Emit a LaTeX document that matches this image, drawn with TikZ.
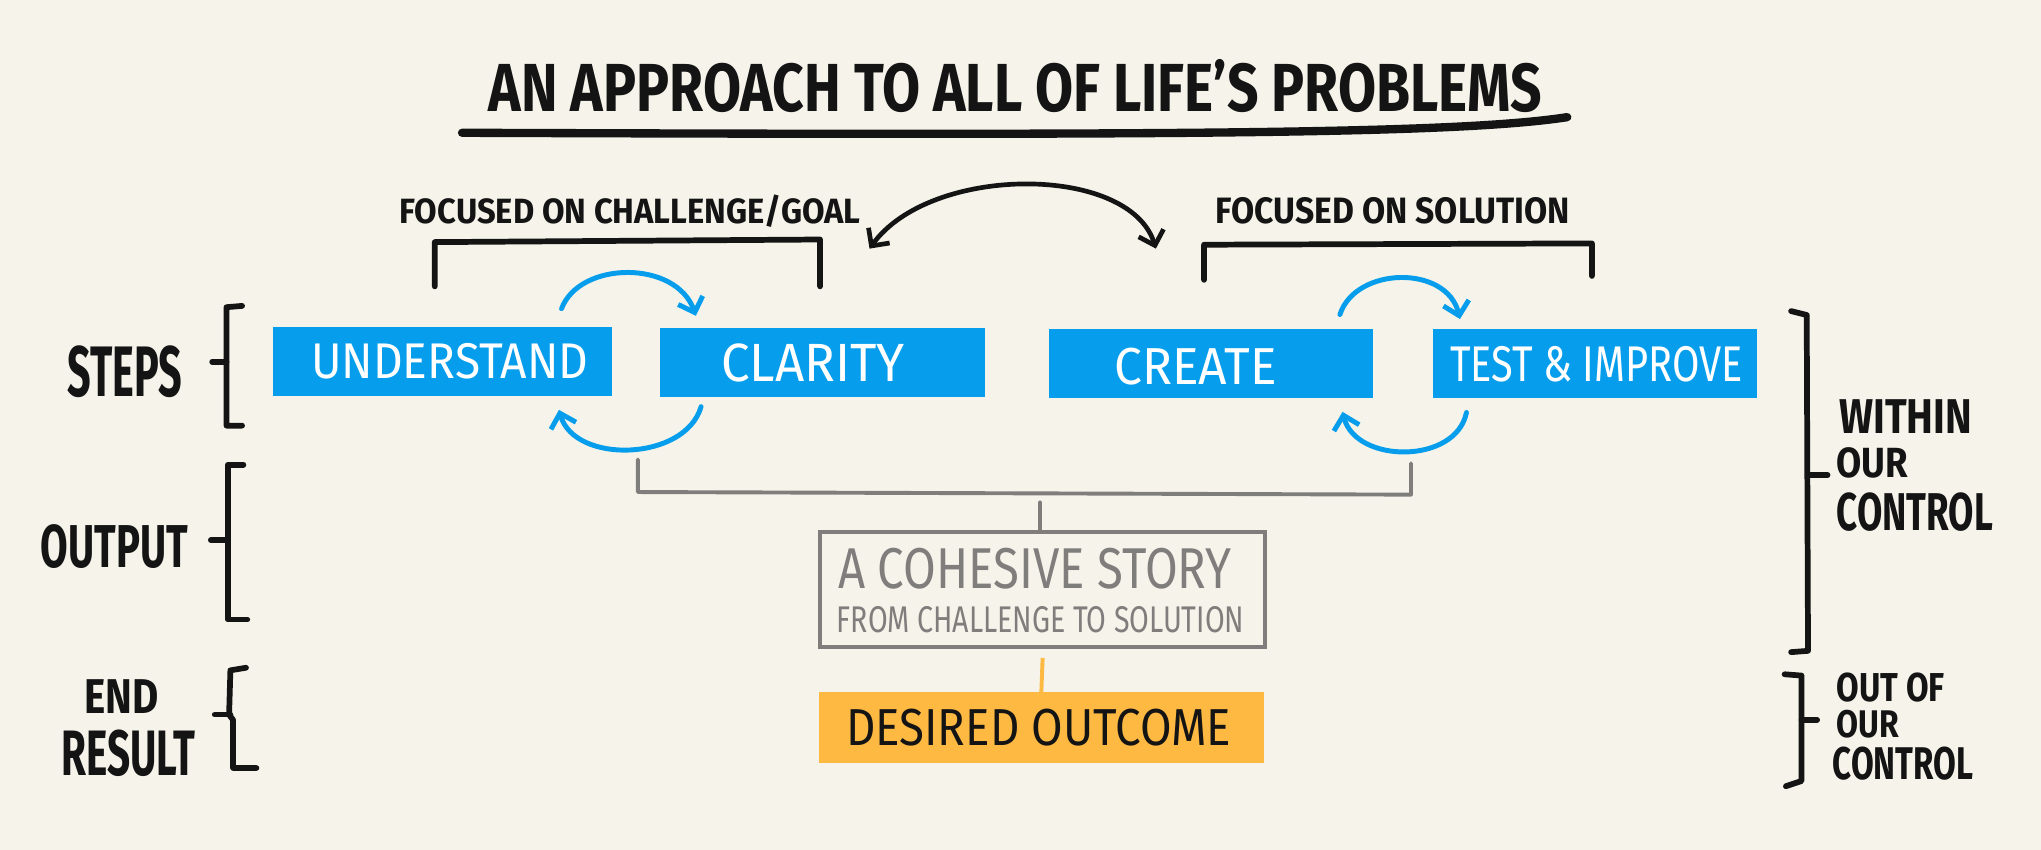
\documentclass[tikz,border=0pt]{standalone}
\usepackage{fontspec}
\setmainfont{Fira Sans}
\usepackage{graphicx}
\usetikzlibrary{arrows.meta,calc}
\definecolor{bg}{HTML}{F5F3EA}
\definecolor{skyblue}{HTML}{069EEC}
\definecolor{pencil}{HTML}{807E7C}
\definecolor{marigold}{HTML}{FDB942}
\definecolor{ink}{HTML}{141414}
\newlength\dpx \setlength\dpx{0.5pt}
\newcommand\fitt[3]{\resizebox{#1\dpx}{#2\dpx}{#3}}
\begin{document}
\begin{tikzpicture}[x=0.5pt,y=-0.5pt,
  bluebox/.style={fill=skyblue, inner sep=0pt, minimum height=53\dpx},
  lbl/.style={inner sep=0pt, text=ink, font=\bfseries},
  wlbl/.style={inner sep=0pt, text=white},
  glbl/.style={inner sep=0pt, text=pencil},
  brk/.style={draw=ink, line width=2.2pt, line cap=round, line join=round},
  gline/.style={draw=pencil, line width=1.5pt, line cap=round, line join=round},
  bluearc/.style={draw=skyblue, line width=1.9pt, line cap=round, -{Straight Barb[length=5pt,width=10pt]}},
  swaparc/.style={draw=ink, line width=1.8pt, line cap=round, {Straight Barb[length=5pt,width=10pt]}-{Straight Barb[length=5pt,width=10pt]}}
]
\fill[bg] (0,0) rectangle (1568,653);
\useasboundingbox (0,0) rectangle (1568,653);

% title
\node[lbl] (title) at (780,66) {\fitt{809}{40}{AN APPROACH TO ALL OF LIFE'S PROBLEMS}};
\draw[draw=ink, line width=3.2pt, line cap=round] (355,102) .. controls (900,104) and (1120,103) .. (1204,90);

% focus labels and brackets
\node[lbl] (focgoal) at (484,162) {\fitt{354}{22}{FOCUSED ON CHALLENGE/GOAL}};
\node[lbl] (focsol) at (1070,162) {\fitt{272}{20}{FOCUSED ON SOLUTION}};
\draw[brk] (334,220) -- (334,186) -- (630,184) -- (630,220);
\draw[brk] (925,215) -- (925,188) -- (1223,187) -- (1223,212);

% swap arrow
\coordinate (arrL) at (668,191);
\coordinate (arrR) at (888,191);
\draw[swaparc] (arrL) .. controls (715,126) and (868,126) .. (arrR);

% step boxes
\node[bluebox, minimum width=260\dpx] (understand) at (340,278) {};
\node[bluebox, minimum width=250\dpx] (clarity) at (632,278.5) {};
\node[bluebox, minimum width=249\dpx] (create) at (930.5,279.5) {};
\node[bluebox, minimum width=249\dpx] (test) at (1225.5,279) {};
\node[wlbl] (tunderstand) at (345.5,277.5) {\fitt{213}{27}{UNDERSTAND}};
\node[wlbl] (tclarity) at (624.5,278.5) {\fitt{141}{29}{CLARITY}};
\node[wlbl] (tcreate) at (918.5,282) {\fitt{125}{28}{CREATE}};
\node[wlbl] (ttest) at (1226.5,279.5) {\fitt{225}{27}{TEST \& IMPROVE}};

% loops
\draw[bluearc] ($(understand.north east)+(-39,-14)$) .. controls +(14,-37) and +(-15,-43) .. ($(clarity.north west)+(28,-9)$);
\draw[bluearc] ($(clarity.south west)+(32,7)$) .. controls +(-12,42) and +(12,42) .. ($(understand.south east)+(-41,10)$);
\draw[bluearc] ($(create.north east)+(-26,-11)$) .. controls +(12,-37) and +(-10,-42) .. ($(test.north west)+(21,-7)$);
\draw[bluearc] ($(test.south west)+(26,11)$) .. controls +(-8,40) and +(10,40) .. ($(create.south east)+(-24,10)$);

% output bracket
\coordinate (gl) at (490,353);
\coordinate (gr) at (1084,356);
\coordinate (stemtop) at (799,386);
\draw[gline] (gl) -- (490,378) -- (1084,380) -- (gr);
\node[draw=pencil, line width=1.5pt, inner sep=0pt, minimum width=342\dpx, minimum height=88\dpx] (story) at (801,453) {};
\draw[gline] (stemtop) -- (stemtop |- story.north);
\node[glbl] (story1) at (795,436.5) {\fitt{302}{31}{A COHESIVE STORY}};
\node[glbl] (story2) at (799.5,476) {\fitt{313}{20}{FROM CHALLENGE TO SOLUTION}};

% outcome
\node[fill=marigold, inner sep=0pt, minimum width=342\dpx, minimum height=54\dpx] (outcome) at (800,559) {};
\node[inner sep=0pt, text=ink] (toutcome) at (798,559) {\fitt{296}{28}{DESIRED OUTCOME}};
\draw[draw=marigold, line width=1.5pt] ($(story.south)+(0,7)$) -- (outcome.north);

% left labels
\node[lbl] (steps) at (96,285.5) {\fitt{88}{39}{STEPS}};
\draw[brk] (186,235) -- (174,236) -- (174,327) -- (186,327);
\draw[brk] (163,278) -- (174,278);
\node[lbl] (output) at (88,419.5) {\fitt{113}{33}{OUTPUT}};
\draw[brk] (187,357) -- (175,357) -- (175,476) -- (190,476);
\draw[brk] (162,415) -- (175,415);
\node[lbl] (endw) at (93.5,535) {\fitt{57}{26}{END}};
\node[lbl] (result) at (98.5,578.5) {\fitt{103}{35}{RESULT}};
\draw[brk] (189,513) -- (177,515) -- (176,549) -- (179,553) -- (179,590) -- (197,590);
\draw[brk] (165,549) -- (177,549);

% right labels
\node[lbl] (within) at (1464,320) {\fitt{102}{26}{WITHIN}};
\node[lbl] (our1) at (1438.5,355.5) {\fitt{55}{23}{OUR}};
\node[lbl] (control1) at (1471,393.5) {\fitt{120}{29}{CONTROL}};
\draw[brk] (1376,239) -- (1388,242) -- (1389,500) -- (1376,501);
\draw[brk] (1389,365) -- (1404,365);
\node[lbl] (outof) at (1452.5,528) {\fitt{83}{22}{OUT OF}};
\node[lbl] (our2) at (1435,556.5) {\fitt{48}{21}{OUR}};
\node[lbl] (control2) at (1462,587) {\fitt{108}{25}{CONTROL}};
\draw[brk] (1371,518) -- (1384,519) -- (1384,600) -- (1372,604);
\draw[brk] (1384,553) -- (1396,553);
\end{tikzpicture}
\end{document}
